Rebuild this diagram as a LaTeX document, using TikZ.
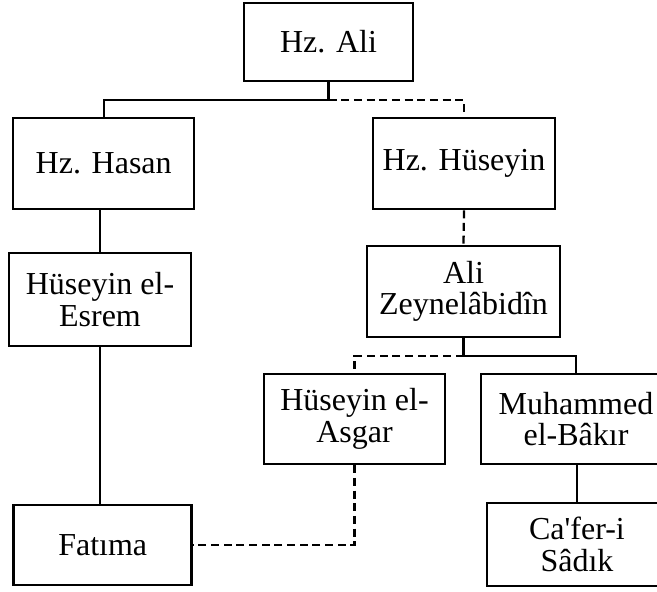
\documentclass[tikz,border=0pt]{standalone}
\usepackage{fontspec}
\setmainfont{Liberation Serif}
\usetikzlibrary{calc}
\begin{document}
\begin{tikzpicture}[x=0.75pt,y=-0.75pt,
  box/.style={draw, line width=1.9pt, rectangle, inner sep=0pt, align=center,
    font=\fontsize{24}{23.5}\selectfont},
  solidline/.style={line width=1.7pt},
  dashline/.style={line width=1.7pt, dash pattern=on 6pt off 3.5pt}]
\useasboundingbox (0,0) rectangle (657,592);
\clip (0,0) rectangle (657,592);
\node[box, minimum width=169*0.75pt, minimum height=78*0.75pt] (ali) at (328.5,42) {Hz. Ali};
\node[box, minimum width=181*0.75pt, minimum height=91*0.75pt] (hasan) at (103.7,163.5) {Hz. Hasan};
\node[box, minimum width=182*0.75pt, minimum height=91*0.75pt] (huseyin) at (464,163.5) {Hz. Hüseyin};
\node[box, minimum width=182*0.75pt, minimum height=93*0.75pt] (esrem) at (100,299.5) {Hüseyin el-\\Esrem};
\node[box, minimum width=193*0.75pt, minimum height=91*0.75pt] (zeyn) at (463.5,291.5) {Ali\\Zeynelâbidîn};
\node[box, minimum width=181*0.75pt, minimum height=90*0.75pt] (asgar) at (354.5,419) {Hüseyin el-\\Asgar};
\node[box, minimum width=190*0.75pt, minimum height=90*0.75pt] (bakir) at (576,419) {Muhammed\\el-Bâkır};
\node[box, minimum width=178*0.75pt, minimum height=80*0.75pt] (fatima) at (102.7,545) {Fatıma};
\node[box, minimum width=180*0.75pt, minimum height=83*0.75pt] (cafer) at (577,544.5) {Ca\textquotesingle fer-i\\Sâdık};
% connectors
\coordinate (j1) at ($(ali.south)+(0,18)$);
\draw[solidline] (ali.south) -- (j1) -| (hasan.north);
\draw[dashline] (j1) -| (huseyin.north);
\draw[solidline] (esrem.north) -- (esrem.north |- hasan.south);
\draw[dashline] (huseyin.south) -- (zeyn.north);
\coordinate (j2) at ($(zeyn.south)+(0,18)$);
\draw[solidline] (zeyn.south) -- (j2) -| (bakir.north);
\draw[dashline] (j2) -| (asgar.north);
\draw[solidline] (esrem.south) -- (esrem.south |- fatima.north);
\draw[dashline] (asgar.south) |- (fatima.east);
\draw[solidline] (cafer.north |- bakir.south) -- (cafer.north);
\end{tikzpicture}
\end{document}
